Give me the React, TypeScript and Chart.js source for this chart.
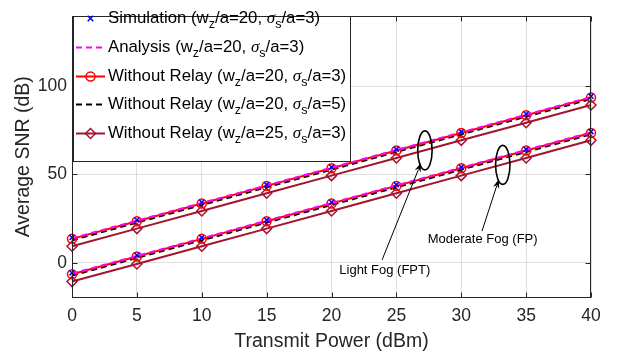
import React, { useEffect, useRef } from "react";
import { Chart, registerables } from "chart.js";

Chart.register(...registerables);

// ---------------- data ----------------
const transmitPower = [0, 5, 10, 15, 20, 25, 30, 35, 40];
const xTicks = [0, 5, 10, 15, 20, 25, 30, 35, 40];
const yTicks = [0, 50, 100];

// Light fog (FPT) group
const simFPT = [14.2, 24.2, 34.2, 44.2, 54.2, 64.2, 74.2, 84.2, 94.2];
const anaFPT = [13.8, 23.8, 33.8, 43.8, 53.8, 63.8, 73.8, 83.8, 93.8];
const noRelayFPT = [13.5, 23.5, 33.5, 43.5, 53.5, 63.5, 73.5, 83.5, 93.5];
const noRelaySig5FPT = [12.7, 22.7, 32.7, 42.7, 52.7, 62.7, 72.7, 82.7, 92.7];
const noRelayWz25FPT = [9.3, 19.3, 29.3, 39.3, 49.3, 59.3, 69.3, 79.3, 89.3];

// Moderate fog (FP) group
const simFP = [-5.8, 4.2, 14.2, 24.2, 34.2, 44.2, 54.2, 64.2, 74.2];
const anaFP = [-6.2, 3.8, 13.8, 23.8, 33.8, 43.8, 53.8, 63.8, 73.8];
const noRelayFP = [-6.5, 3.5, 13.5, 23.5, 33.5, 43.5, 53.5, 63.5, 73.5];
const noRelaySig5FP = [-7.3, 2.7, 12.7, 22.7, 32.7, 42.7, 52.7, 62.7, 72.7];
const noRelayWz25FP = [-10.7, -0.7, 9.3, 19.3, 29.3, 39.3, 49.3, 59.3, 69.3];

const legendNames = ["Simulation", "Analysis", "Without Relay", "Without Relay", "Without Relay"];
const legendWz = [20, 20, 20, 20, 25];
const legendSigma = [3, 3, 3, 5, 3];

const xTitle = "Transmit Power (dBm)";
const yTitle = "Average SNR (dB)";

const fogLabels = ["Light Fog (FPT)", "Moderate Fog (FP)"];
const ellipseCenters = [
  [27.2, 63.6],
  [33.2, 55.4],
];
const arrowTails = [
  [23.9, 1.6],
  [31.6, 17.9],
];
const arrowTips = [
  [26.9, 56.5],
  [32.9, 47.3],
];
const fogLabelAnchors = [
  [20.6, -4.35],
  [27.42, 13.0],
];

// ---------------- styles ----------------
const FONT = '"Liberation Sans", Arial, Helvetica, sans-serif';
const AXIS_COLOR = "#262626";

type Style = {
  color: string;
  dash: number[];
  width: number;
  showLine: boolean;
  pointStyle: any;
  radius: number;
};

const styles: Style[] = [
  { color: "#0000ff", dash: [], width: 1.5, showLine: false, pointStyle: "crossRot", radius: 3.5 },
  { color: "#ff00ff", dash: [6, 4], width: 2, showLine: true, pointStyle: false, radius: 0 },
  { color: "#ff0000", dash: [], width: 2, showLine: true, pointStyle: "circle", radius: 4.5 },
  { color: "#000000", dash: [6, 4], width: 2, showLine: true, pointStyle: false, radius: 0 },
  { color: "#a2142f", dash: [], width: 2, showLine: true, pointStyle: "rectRot", radius: 5 },
];

const groups = [
  [simFPT, anaFPT, noRelayFPT, noRelaySig5FPT, noRelayWz25FPT],
  [simFP, anaFP, noRelayFP, noRelaySig5FP, noRelayWz25FP],
];

function drawArrow(ctx: CanvasRenderingContext2D, x0: number, y0: number, x1: number, y1: number) {
  const ang = Math.atan2(y1 - y0, x1 - x0);
  const hl = 9;
  const hw = 3.2;
  ctx.beginPath();
  ctx.moveTo(x0, y0);
  ctx.lineTo(x1 - hl * 0.8 * Math.cos(ang), y1 - hl * 0.8 * Math.sin(ang));
  ctx.stroke();
  ctx.beginPath();
  ctx.moveTo(x1, y1);
  ctx.lineTo(x1 - hl * Math.cos(ang) + hw * Math.sin(ang), y1 - hl * Math.sin(ang) - hw * Math.cos(ang));
  ctx.lineTo(x1 - hl * 0.7 * Math.cos(ang), y1 - hl * 0.7 * Math.sin(ang));
  ctx.lineTo(x1 - hl * Math.cos(ang) - hw * Math.sin(ang), y1 - hl * Math.sin(ang) + hw * Math.cos(ang));
  ctx.closePath();
  ctx.fill();
}

function drawMarker(ctx: CanvasRenderingContext2D, st: Style, cx: number, cy: number) {
  if (!st.pointStyle) return;
  ctx.save();
  ctx.strokeStyle = st.color;
  ctx.lineWidth = 1.5;
  ctx.setLineDash([]);
  const r = st.radius;
  ctx.beginPath();
  if (st.pointStyle === "circle") {
    ctx.arc(cx, cy, r, 0, Math.PI * 2);
  } else if (st.pointStyle === "rectRot") {
    ctx.moveTo(cx, cy - r);
    ctx.lineTo(cx + r, cy);
    ctx.lineTo(cx, cy + r);
    ctx.lineTo(cx - r, cy);
    ctx.closePath();
  } else if (st.pointStyle === "crossRot") {
    const d = r * 0.8;
    ctx.moveTo(cx - d, cy - d);
    ctx.lineTo(cx + d, cy + d);
    ctx.moveTo(cx + d, cy - d);
    ctx.lineTo(cx - d, cy + d);
  }
  ctx.stroke();
  ctx.restore();
}

const overlayPlugin = {
  id: "overlay",
  afterDatasetsDraw(chart: any) {
    const { ctx, chartArea: ca, scales } = chart;
    const xs = scales.x;
    const ys = scales.y;
    ctx.save();

    // frame and inner ticks
    ctx.strokeStyle = AXIS_COLOR;
    ctx.lineWidth = 1;
    ctx.setLineDash([]);
    const L = Math.round(ca.left) + 0.5;
    const R = Math.round(ca.right) - 0.5;
    const T = Math.round(ca.top) + 0.5;
    const B = Math.round(ca.bottom) - 0.5;
    ctx.strokeRect(L, T, R - L, B - T);
    const tl = 5;
    ctx.beginPath();
    xTicks.forEach((v) => {
      const px = Math.round(xs.getPixelForValue(v)) + 0.5;
      ctx.moveTo(px, B);
      ctx.lineTo(px, B - tl);
      ctx.moveTo(px, T);
      ctx.lineTo(px, T + tl);
    });
    yTicks.forEach((v) => {
      const py = Math.round(ys.getPixelForValue(v)) + 0.5;
      ctx.moveTo(L, py);
      ctx.lineTo(L + tl, py);
      ctx.moveTo(R, py);
      ctx.lineTo(R - tl, py);
    });
    ctx.stroke();

    // fog annotations
    ctx.strokeStyle = "#000";
    ctx.fillStyle = "#000";
    for (let i = 0; i < ellipseCenters.length; i++) {
      const ex = xs.getPixelForValue(ellipseCenters[i][0]);
      const ey = ys.getPixelForValue(ellipseCenters[i][1]);
      ctx.lineWidth = 1.6;
      ctx.beginPath();
      ctx.ellipse(ex, ey, 7.2, 19.5, 0, 0, Math.PI * 2);
      ctx.stroke();
      ctx.lineWidth = 1;
      drawArrow(
        ctx,
        xs.getPixelForValue(arrowTails[i][0]),
        ys.getPixelForValue(arrowTails[i][1]),
        xs.getPixelForValue(arrowTips[i][0]),
        ys.getPixelForValue(arrowTips[i][1])
      );
      ctx.font = `13px ${FONT}`;
      ctx.textAlign = "left";
      ctx.textBaseline = "middle";
      ctx.fillText(
        fogLabels[i],
        xs.getPixelForValue(fogLabelAnchors[i][0]),
        ys.getPixelForValue(fogLabelAnchors[i][1])
      );
    }

    // legend
    const bx = L + 0.5;
    const by = T;
    const bw = 277;
    const bh = 145;
    ctx.fillStyle = "#fff";
    ctx.fillRect(bx, by, bw, bh);
    ctx.strokeStyle = AXIS_COLOR;
    ctx.lineWidth = 1;
    ctx.strokeRect(Math.round(bx) + 0.5, by, bw, bh);

    const rowStart = 18.3;
    const rowGap = 28.6;
    const sx0 = 76;
    const sx1 = 105;
    const tx = 108;
    const mainFont = `16.8px ${FONT}`;
    const subFont = `12.5px ${FONT}`;
    const sigFont = `italic 17px "Liberation Serif", "DejaVu Serif", serif`;
    for (let i = 0; i < legendNames.length; i++) {
      const st = styles[i];
      const cy = Math.round(rowStart + i * rowGap) + 0.5;
      if (st.showLine) {
        ctx.save();
        ctx.strokeStyle = st.color;
        ctx.lineWidth = st.width;
        ctx.setLineDash(st.dash);
        ctx.beginPath();
        ctx.moveTo(sx0, cy);
        ctx.lineTo(sx1, cy);
        ctx.stroke();
        ctx.restore();
      }
      drawMarker(ctx, st, (sx0 + sx1) / 2, cy);

      const parts: { t: string; f: string; dy: number }[] = [
        { t: `${legendNames[i]} (w`, f: mainFont, dy: 0 },
        { t: "z", f: subFont, dy: 6 },
        { t: `/a=${legendWz[i]}, `, f: mainFont, dy: 0 },
        { t: "σ", f: sigFont, dy: 0 },
        { t: "s", f: subFont, dy: 6 },
        { t: `/a=${legendSigma[i]})`, f: mainFont, dy: 0 },
      ];
      let x = tx;
      ctx.fillStyle = "#000";
      ctx.textAlign = "left";
      ctx.textBaseline = "middle";
      parts.forEach((p) => {
        ctx.font = p.f;
        ctx.fillText(p.t, x, cy + p.dy);
        x += ctx.measureText(p.t).width;
      });
    }

    ctx.restore();
  },
};

export default function App() {
  const canvasRef = useRef<HTMLCanvasElement | null>(null);

  useEffect(() => {
    const canvas = canvasRef.current;
    if (!canvas) return;
    const datasets: any[] = [];
    // index 0 is drawn on top in Chart.js
    for (let s = 0; s < styles.length; s++) {
      for (let g = 0; g < groups.length; g++) {
        const st = styles[s];
        datasets.push({
          label: `${legendNames[s]}-${g}`,
          data: transmitPower.map((x, k) => ({ x, y: groups[g][s][k] })),
          borderColor: st.color,
          backgroundColor: st.color,
          borderWidth: st.width,
          borderDash: st.dash,
          showLine: st.showLine,
          pointStyle: st.pointStyle,
          pointRadius: st.radius,
          pointBorderWidth: 1.5,
          pointBorderColor: st.color,
          pointBackgroundColor: "rgba(0,0,0,0)",
          tension: 0,
          fill: false,
          clip: false,
        });
      }
    }

    const chart = new Chart(canvas, {
      type: "line",
      data: { datasets },
      options: {
        animation: false,
        responsive: false,
        maintainAspectRatio: false,
        layout: { padding: { top: 3, right: 27, left: 0, bottom: 0 } },
        plugins: { legend: { display: false }, tooltip: { enabled: false } },
        scales: {
          x: {
            type: "linear",
            min: 0,
            max: 40,
            afterBuildTicks: (sc: any) => {
              sc.ticks = xTicks.map((v) => ({ value: v }));
            },
            afterFit: (sc: any) => {
              sc.height = 62;
            },
            grid: { color: "rgba(38,38,38,0.15)", drawTicks: false, lineWidth: 1 },
            border: { display: false },
            ticks: {
              padding: 8,
              color: AXIS_COLOR,
              font: { family: FONT, size: 17.5 },
              maxRotation: 0,
              callback: (v: any) => String(v),
            },
            title: {
              display: true,
              text: xTitle,
              color: AXIS_COLOR,
              font: { family: FONT, size: 19.5 },
              padding: { top: 0, bottom: 7 },
            },
          },
          y: {
            type: "linear",
            min: -20,
            max: 140,
            afterBuildTicks: (sc: any) => {
              sc.ticks = yTicks.map((v) => ({ value: v }));
            },
            afterFit: (sc: any) => {
              sc.width = 72;
            },
            grid: { color: "rgba(38,38,38,0.15)", drawTicks: false, lineWidth: 1 },
            border: { display: false },
            ticks: {
              padding: 5,
              color: AXIS_COLOR,
              font: { family: FONT, size: 17.5 },
              callback: (v: any) => String(v),
            },
            title: {
              display: true,
              text: yTitle,
              color: AXIS_COLOR,
              font: { family: FONT, size: 19.5 },
              padding: { top: 12, bottom: 0 },
            },
          },
        },
      },
      plugins: [overlayPlugin],
    });
    return () => chart.destroy();
  }, []);

  return (
    <div style={{ position: "fixed", left: 0, top: 0, width: 618, height: 360, background: "#fff" }}>
      <canvas ref={canvasRef} width={618} height={360} style={{ display: "block" }} />
    </div>
  );
}
